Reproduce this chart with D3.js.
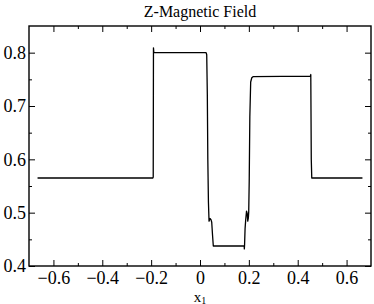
<!DOCTYPE html>
<html><head><meta charset="utf-8">
<script src="https://cdn.jsdelivr.net/npm/d3@7"></script>
<style>
html,body{margin:0;padding:0;background:#fff;}
svg{display:block;}
text{font-family:"Liberation Serif","Times New Roman",serif;fill:#000;}
</style></head>
<body>
<script>
// ---- data ----
const title = "Z-Magnetic Field";
const xLabel = "x";
const xLabelSub = "1";
const x1Values = [-0.665, -0.193, -0.1915, -0.1905, -0.189, 0.025, 0.0275, 0.030, 0.032, 0.0345, 0.037, 0.041, 0.045, 0.048, 0.051, 0.0545, 0.181, 0.1815, 0.1825, 0.1845, 0.187, 0.1905, 0.1935, 0.1955, 0.198, 0.1995, 0.2015, 0.204, 0.2075, 0.212, 0.217, 0.452, 0.4535, 0.4555, 0.4575, 0.665];
const bzValues = [0.565, 0.565, 0.567, 0.809, 0.800, 0.800, 0.796, 0.72, 0.60, 0.52, 0.484, 0.489, 0.487, 0.482, 0.46, 0.4375, 0.4375, 0.432, 0.44, 0.47, 0.486, 0.503, 0.498, 0.484, 0.49, 0.502, 0.56, 0.68, 0.745, 0.753, 0.755, 0.756, 0.759, 0.60, 0.565, 0.565];
const xTicks = [-0.6, -0.4, -0.2, 0, 0.2, 0.4, 0.6];
const xMinorTicks = [-0.5, -0.3, -0.1, 0.1, 0.3, 0.5];
const yTicks = [0.4, 0.5, 0.6, 0.7, 0.8];
const yMinorTicks = [0.45, 0.55, 0.65, 0.75];
const xDomain = [-0.7, 0.7];
const yDomain = [0.4, 0.85];

// ---- layout ----
const W = 374, H = 304;
const L = 29, R = 371, T = 26, B = 266;

const svg = d3.select("body").append("svg").attr("width", W).attr("height", H);
const x = d3.scaleLinear().domain(xDomain).range([L, R]);
const y = d3.scaleLinear().domain(yDomain).range([B, T]);

const majorLen = 6, minorLen = 3;

// bottom axis with labels
const gB = svg.append("g").attr("transform", `translate(0,${B})`);
gB.call(d3.axisBottom(x).tickValues(xTicks).tickSize(-majorLen).tickPadding(5).tickFormat(d => d === 0 ? "0" : d3.format(".1f")(d)));
gB.append("g").call(d3.axisBottom(x).tickValues(xMinorTicks).tickSize(-minorLen).tickFormat(""));
// top axis
const gT = svg.append("g").attr("transform", `translate(0,${T})`);
gT.call(d3.axisTop(x).tickValues(xTicks).tickSize(-majorLen).tickFormat(""));
gT.append("g").call(d3.axisTop(x).tickValues(xMinorTicks).tickSize(-minorLen).tickFormat(""));
// left axis with labels
const gL = svg.append("g").attr("transform", `translate(${L},0)`);
gL.call(d3.axisLeft(y).tickValues(yTicks).tickSize(-majorLen).tickPadding(3).tickFormat(d3.format(".1f")));
gL.append("g").call(d3.axisLeft(y).tickValues(yMinorTicks).tickSize(-minorLen).tickFormat(""));
// right axis
const gR = svg.append("g").attr("transform", `translate(${R},0)`);
gR.call(d3.axisRight(y).tickValues(yTicks).tickSize(-majorLen).tickFormat(""));
gR.append("g").call(d3.axisRight(y).tickValues(yMinorTicks).tickSize(-minorLen).tickFormat(""));

svg.selectAll(".domain").remove();
svg.selectAll(".tick line").attr("stroke", "#000").attr("stroke-width", 1);
svg.selectAll(".tick text").attr("font-size", 18).attr("fill", "#000");

// frame
svg.append("rect").attr("x", L).attr("y", T).attr("width", R - L).attr("height", B - T)
  .attr("fill", "none").attr("stroke", "#000").attr("stroke-width", 1.4);

// data line
const pts = x1Values.map((v, i) => [v, bzValues[i]]);
svg.append("path").datum(pts)
  .attr("fill", "none").attr("stroke", "#000").attr("stroke-width", 1.3)
  .attr("stroke-linejoin", "round")
  .attr("d", d3.line().x(d => x(d[0])).y(d => y(d[1])));

// title
svg.append("text").attr("x", (L + R) / 2).attr("y", 17).attr("text-anchor", "middle")
  .attr("font-size", 16).text(title);

// x label with subscript
const xl = svg.append("text").attr("x", x(0)).attr("y", 301.5).attr("text-anchor", "middle").attr("font-size", 15);
xl.append("tspan").text(xLabel);
xl.append("tspan").attr("font-size", 10).attr("dy", 2).text(xLabelSub);
</script>
</body></html>
